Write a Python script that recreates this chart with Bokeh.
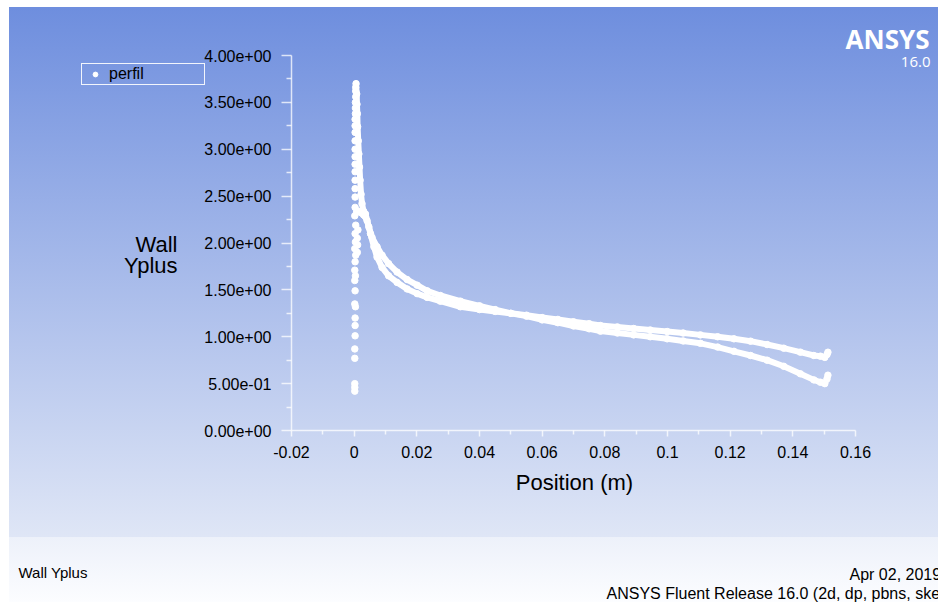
from bokeh.plotting import figure
from bokeh.models import (Range1d, FixedTicker, Label, Legend, LegendItem,
                          CustomJSTickFormatter)
from bokeh.embed import file_html
from bokeh.resources import INLINE

# ---- Wall y+ along the profile ("perfil") ----
# leading-edge column (individual nodes close to x = 0)
le_x = [0.0002, 0.0002, 0.0002, 0.0002, 0.0002, 0.0003, 0.0003, 0.0003, 0.0004, 0.0002,
        0.0003, 0.0002, 0.0004, 0.0002, 0.0003, 0.0005, 0.0002, 0.0004, 0.0003, 0.0005,
        0.0002, 0.0010, 0.0011, 0.0010, 0.0012, 0.0003, 0.0003, 0.0003, 0.0003, 0.0003,
        0.0003, 0.0003, 0.0003, 0.0003, 0.0003, 0.0003, 0.0003, 0.0004, 0.0004, 0.0004,
        0.0005, 0.0005, 0.0005]
le_y = [0.42, 0.46, 0.50, 0.77, 0.87, 1.01, 1.12, 1.20, 1.32, 1.35,
        1.49, 1.60, 1.65, 1.71, 1.80, 1.87, 1.94, 2.01, 2.10, 2.19,
        2.29, 1.90, 1.98, 2.05, 2.14, 2.38, 2.49, 2.58, 2.67, 2.76,
        2.84, 2.92, 3.00, 3.09, 3.18, 3.25, 3.32, 3.38, 3.44, 3.50,
        3.56, 3.62, 3.66]

# upper surface: from the y+ peak at the nose to the trailing edge
upper_x = [0.0006, 0.0008, 0.0009, 0.0010, 0.0011, 0.0013, 0.0015, 0.0017, 0.0019, 0.0022,
           0.0025, 0.0030, 0.0036, 0.0047, 0.0057, 0.0073, 0.0089, 0.0110, 0.0137, 0.0169,
           0.0201, 0.0233, 0.0275, 0.0339, 0.0400, 0.0450, 0.0500, 0.0550, 0.0600, 0.0650,
           0.0700, 0.0750, 0.0786, 0.0840, 0.0892, 0.0945, 0.0999, 0.1050, 0.1105, 0.1160,
           0.1212, 0.1265, 0.1318, 0.1371, 0.1424, 0.1467, 0.1488, 0.1502, 0.1509, 0.1512]
upper_y = [3.70, 3.59, 3.48, 3.38, 3.24, 3.09, 2.95, 2.81, 2.67, 2.52,
           2.42, 2.34, 2.31, 2.17, 2.06, 1.96, 1.87, 1.78, 1.69, 1.61,
           1.55, 1.49, 1.44, 1.38, 1.33, 1.29, 1.25, 1.22, 1.18, 1.15,
           1.115, 1.085, 1.06, 1.04, 1.02, 1.00, 0.978, 0.955, 0.93, 0.89,
           0.845, 0.80, 0.75, 0.685, 0.605, 0.54, 0.515, 0.50, 0.55, 0.59]

# lower surface: from the nose to the trailing edge
lower_x = [0.0008, 0.0013, 0.0018, 0.0024, 0.0030, 0.0036, 0.0041, 0.0052, 0.0063, 0.0073,
           0.0089, 0.0110, 0.0137, 0.0169, 0.0201, 0.0233, 0.0275, 0.0339, 0.0400, 0.0450,
           0.0500, 0.0550, 0.0600, 0.0650, 0.0700, 0.0750, 0.0786, 0.0840, 0.0892, 0.0945,
           0.0999, 0.1050, 0.1105, 0.1160, 0.1212, 0.1265, 0.1318, 0.1371, 0.1424, 0.1467,
           0.1488, 0.1502, 0.1509, 0.1512]
lower_y = [2.33, 2.34, 2.33, 2.32, 2.30, 2.28, 2.24, 2.10, 1.96, 1.85,
           1.74, 1.65, 1.58, 1.51, 1.46, 1.42, 1.38, 1.32, 1.29, 1.27,
           1.25, 1.23, 1.205, 1.185, 1.16, 1.14, 1.12, 1.105, 1.088, 1.072,
           1.056, 1.04, 1.02, 1.00, 0.978, 0.953, 0.917, 0.878, 0.836, 0.80,
           0.793, 0.78, 0.81, 0.835]

# ---- axes ----
x_ticks = [-0.02, 0.0, 0.02, 0.04, 0.06, 0.08, 0.10, 0.12, 0.14, 0.16]
x_tick_labels = ["-0.02", "0", "0.02", "0.04", "0.06", "0.08", "0.1", "0.12", "0.14", "0.16"]
x_minor = [-0.01, 0.01, 0.03, 0.05, 0.07, 0.09, 0.11, 0.13, 0.15]
y_ticks = [0.0, 0.5, 1.0, 1.5, 2.0, 2.5, 3.0, 3.5, 4.0]
y_tick_labels = ["0.00e+00", "5.00e-01", "1.00e+00", "1.50e+00", "2.00e+00",
                 "2.50e+00", "3.00e+00", "3.50e+00", "4.00e+00"]
y_minor = [0.25, 0.75, 1.25, 1.75, 2.25, 2.75, 3.25, 3.75]
X0, X1 = x_ticks[0], x_ticks[-1]
Y0, Y1 = y_ticks[0], y_ticks[-1]

W, H = 938, 602
# where the axis box sits on the page (pixels from the top-left corner)
FL, FR, FT, FB = 291, 855, 55, 430
FONT = "Liberation Sans"

# the drawing area spans the whole page; the ranges put the axis box at FL..FR / FT..FB
kx = (FR - FL) / (X1 - X0)
ky = (FB - FT) / (Y1 - Y0)
p = figure(width=W, height=H, output_backend="svg", toolbar_location=None,
           x_range=Range1d(X0 - FL / kx, X1 + (W - FR) / kx),
           y_range=Range1d(Y0 - (H - FB) / ky, Y1 + FT / ky),
           min_border=0, min_border_left=0, min_border_right=0,
           min_border_top=0, min_border_bottom=0,
           background_fill_color=None, border_fill_color=None,
           outline_line_color=None)
p.title.visible = False
p.grid.visible = False

# Fluent-style blue gradient with the white page edge and the pale caption strip
p.styles = {
    "background": (
        "linear-gradient(to right, #ffffff 0px, #ffffff 9px, rgba(255,255,255,0) 9px),"
        "linear-gradient(to bottom, #ffffff 0px, #ffffff 7px, #6e8ede 7px, "
        "#dfe6f6 537px, #edf1fa 537px, #fcfdff 602px)"
    )
}

pick = """
const i = tick_values.findIndex(t => Math.abs(t - tick) < 1e-9);
return i >= 0 ? tick_texts[i] : "";
"""
p.xaxis.ticker = FixedTicker(ticks=x_ticks, minor_ticks=x_minor)
p.xaxis.formatter = CustomJSTickFormatter(
    args=dict(tick_values=x_ticks, tick_texts=x_tick_labels), code=pick)
p.yaxis.ticker = FixedTicker(ticks=y_ticks, minor_ticks=y_minor)
p.yaxis.formatter = CustomJSTickFormatter(
    args=dict(tick_values=y_ticks, tick_texts=y_tick_labels), code=pick)
p.xaxis.fixed_location = Y0
p.yaxis.fixed_location = X0
p.xaxis.bounds = (X0, X1)
p.yaxis.bounds = (Y0, Y1)

for ax in (p.xaxis[0], p.yaxis[0]):
    ax.axis_line_color = "white"
    ax.axis_line_alpha = 0.75
    ax.axis_line_width = 1.5
    ax.major_tick_line_color = "white"
    ax.major_tick_line_alpha = 0.75
    ax.major_tick_line_width = 1.5
    ax.minor_tick_line_color = "white"
    ax.minor_tick_line_alpha = 0.75
    ax.minor_tick_line_width = 1.5
    ax.major_tick_in = 0
    ax.minor_tick_in = 0
    ax.major_label_text_font = FONT
    ax.major_label_text_font_size = "16px"
    ax.major_label_text_color = "black"

p.xaxis.major_tick_out = 6
p.xaxis.minor_tick_out = 4
p.xaxis.major_label_standoff = 9
p.yaxis.major_tick_out = 10
p.yaxis.minor_tick_out = 5
p.yaxis.major_label_standoff = 10

# ---- data ----
for sx, sy in ((upper_x, upper_y), (lower_x, lower_y)):
    p.line(sx, sy, line_color="white", line_width=6, line_join="round", line_cap="round")
all_x = le_x + upper_x + lower_x
all_y = le_y + upper_y + lower_y
pts = p.scatter(all_x, all_y, marker="circle", size=6.5, fill_color="white", line_color="white")

legend = Legend(items=[LegendItem(label="perfil", renderers=[pts])],
                location=(81, H - 85),
                border_line_color="white", border_line_alpha=0.9, border_line_width=1,
                background_fill_alpha=0, padding=1, spacing=0, margin=0,
                glyph_width=24, glyph_height=12, label_standoff=2,
                label_width=94, label_height=12,
                label_text_font=FONT, label_text_font_size="16px", label_text_color="black")
p.add_layout(legend)


def put(text, cx, cy, size, align="left", font=FONT, style="normal", color="black"):
    # cy is the text baseline on the page; lift by the renderer's baseline offset
    px = float(size.replace("px", ""))
    p.add_layout(Label(x=cx, y=H - cy + 0.38 * px, x_units="screen", y_units="screen",
                       text=text, text_align=align, text_baseline="alphabetic",
                       text_font=font, text_font_size=size, text_font_style=style,
                       text_color=color))


# axis titles
put("Wall", 177, 252, "22px", align="right")
put("Yplus", 177, 273, "22px", align="right")
put("Position (m)", 574, 490, "22px", align="center")

# logo
put("ANSYS", 929, 48, "26px", align="right", font="Open Sans", style="bold", color="white")
put("16.0", 930, 67, "15px", align="right", font="Open Sans", color="white")

# caption strip
put("Wall Yplus", 18, 578, "15px")
put("Apr 02, 2019", 849, 580, "16px")
put("ANSYS Fluent Release 16.0 (2d, dp, pbns, ske)", 606, 599, "16px")

open("out.html", "w").write(file_html(p, INLINE))
